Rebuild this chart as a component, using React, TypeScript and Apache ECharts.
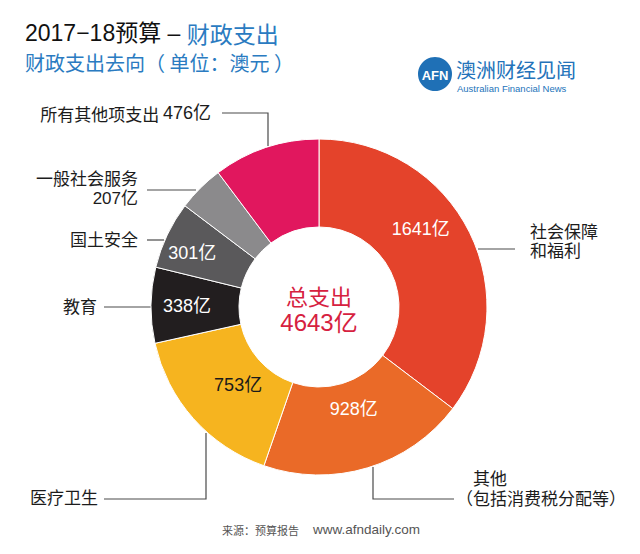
import React, { useEffect, useRef } from "react";
import * as echarts from "echarts";

const categories = ["社会保障和福利", "其他（包括消费税分配等）", "医疗卫生", "教育", "国土安全", "一般社会服务", "所有其他项支出"];
const values = [1641, 928, 753, 338, 301, 207, 476];
const colors = ["#E4432B", "#EA6A28", "#F6B41F", "#221E1F", "#5A595B", "#8B8A8C", "#E1175E"];
const totalLabel = "4643亿";

const FONT = "'Liberation Sans', 'Noto Sans CJK SC', sans-serif";
const CJK = "'Noto Sans CJK SC', sans-serif";

// label tweaks (layout only)
const insideShown = [true, true, true, true, true, false, false];
const insideColor = ["#fff", "#fff", "#1a1a1a", "#fff", "#fff", "#fff", "#fff"];
const insideShift: [number, number][] = [[-12, -22], [-2, -20], [14, -6], [-5, 0], [-12, 0], [0, 0], [0, 0]];

export default function App() {
  const ref = useRef<HTMLDivElement>(null);
  useEffect(() => {
    if (!ref.current) return;
    const chart = echarts.init(ref.current, undefined, { renderer: "svg" });
    const lineStyle = { stroke: "#4a4a4a", lineWidth: 1.2 };
    const txt = (x: number, y: number, text: string, align: string, extra: any = {}) => ({
      type: "text",
      x,
      y,
      style: { text, fill: "#1c1c1c", font: `17px ${FONT}`, textAlign: align, textVerticalAlign: "middle", lineHeight: 19, ...extra },
    });
    const line = (pts: number[][]) => ({ type: "polyline", shape: { points: pts }, style: { ...lineStyle, fill: null } });

    chart.setOption({
      animation: false,
      backgroundColor: "#ffffff",
      series: [
        {
          type: "pie",
          center: [319, 307],
          radius: [80, 168],
          startAngle: 90,
          clockwise: true,
          avoidLabelOverlap: false,
          itemStyle: { borderColor: "#ffffff", borderWidth: 1 },
          labelLine: { show: false },
          label: { show: true, position: "inside", formatter: "{c}亿", fontFamily: FONT, fontSize: 18 },
          labelLayout: (p: any) => ({ dx: insideShift[p.dataIndex][0], dy: insideShift[p.dataIndex][1] }),
          data: categories.map((name, i) => ({
            name,
            value: values[i],
            itemStyle: { color: colors[i] },
            label: { show: insideShown[i], color: insideColor[i] },
          })),
        },
      ],
      graphic: [
        // titles
        {
          type: "text",
          x: 25,
          y: 33,
          style: {
            text: "{a|2017−18预算 – }{b|财政支出}",
            textVerticalAlign: "middle",
            rich: {
              a: { fill: "#111", font: `23px ${FONT}` },
              b: { fill: "#2A7BC1", font: `23px ${CJK}` },
            },
          },
        },
        {
          type: "text",
          x: 25,
          y: 62,
          style: { text: "财政支出去向（ 单位：澳元 ）", fill: "#2A7BC1", font: `20px ${CJK}`, textVerticalAlign: "middle" },
        },
        // logo
        { type: "circle", shape: { cx: 435, cy: 74, r: 17 }, style: { fill: "#1F70B6" } },
        {
          type: "text",
          x: 435,
          y: 75,
          style: { text: "AFN", fill: "#fff", font: `bold 13px ${FONT}`, textAlign: "center", textVerticalAlign: "middle" },
        },
        {
          type: "text",
          x: 456,
          y: 69,
          style: { text: "澳洲财经见闻", fill: "#2373BA", font: `20px ${CJK}`, textVerticalAlign: "middle" },
        },
        {
          type: "text",
          x: 457,
          y: 88,
          style: { text: "Australian Financial News", fill: "#2373BA", font: `9.5px ${FONT}`, textVerticalAlign: "middle" },
        },
        // center text
        {
          type: "text",
          x: 319,
          y: 295,
          style: { text: "总支出", fill: "#D6213F", font: `22px ${CJK}`, textAlign: "center", textVerticalAlign: "middle" },
        },
        {
          type: "text",
          x: 319,
          y: 322,
          style: { text: totalLabel, fill: "#D6213F", font: `24px ${FONT}`, textAlign: "center", textVerticalAlign: "middle" },
        },
        // outside labels + leader lines
        {
          type: "text",
          x: 211,
          y: 113,
          style: {
            text: `{a|${categories[6]} }{b|${values[6]}亿}`,
            textAlign: "right",
            textVerticalAlign: "middle",
            rich: {
              a: { fill: "#1c1c1c", font: `17px ${CJK}` },
              b: { fill: "#1c1c1c", font: `18px ${FONT}` },
            },
          },
        },
        line([[222, 113], [268, 113], [268, 146]]),
        txt(138, 189, `${categories[5]}\n${values[5]}亿`, "right"),
        line([[147, 190], [196, 190]]),
        txt(138, 240, categories[4], "right"),
        line([[147, 240], [164, 240]]),
        txt(97, 307, categories[3], "right"),
        line([[104, 307], [151, 307]]),
        txt(98, 498, categories[2], "right"),
        line([[104, 499], [206, 499], [206, 433]]),
        txt(456, 489, "　其他\n（包括消费税分配等）", "left", { lineHeight: 20 }),
        line([[373, 467], [373, 499], [454, 499]]),
        txt(530, 242, "社会保障\n和福利", "left"),
        line([[478, 249], [515, 249]]),
        // source
        txt(222, 530, "来源：预算报告", "left", { font: `11px ${CJK}`, fill: "#555" }),
        txt(313, 529, "www.afndaily.com", "left", { font: `13.5px ${FONT}`, fill: "#555" }),
      ],
    });
    return () => chart.dispose();
  }, []);
  return <div ref={ref} style={{ position: "fixed", left: 0, top: 0, width: 640, height: 554, background: "#fff" }} />;
}
